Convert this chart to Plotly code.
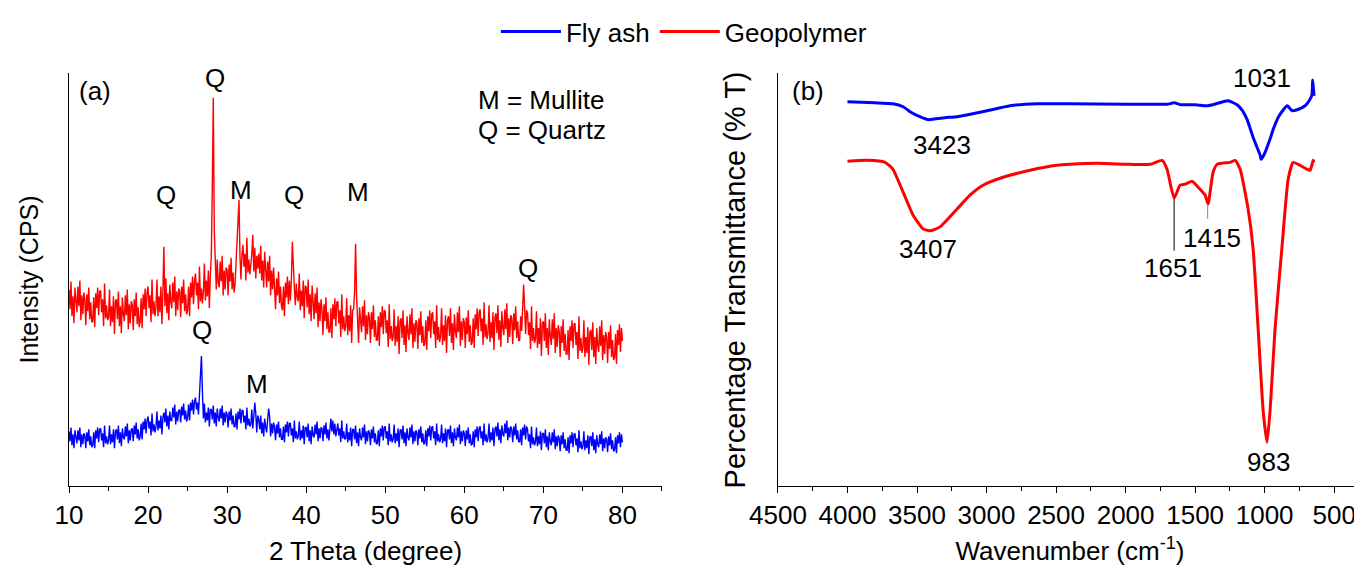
import plotly.graph_objects as go

# ---------------- XRD data (panel a), 2-theta from 10 to 80 deg in 0.125 deg steps ----------------
XRD_START = 10.0
XRD_STEP = 0.125
xrd_geopolymer = [
    198, 178, 206, 171, 191, 164, 200, 183,   # 10
    175, 201, 181, 207, 167, 192, 173, 195,   # 11
    188, 162, 193, 176, 200, 168, 185, 165,   # 12
    166, 190, 160, 194, 179, 200, 172, 196,   # 13
    197, 175, 188, 161, 204, 169, 182, 167,   # 14
    170, 198, 161, 181, 165, 191, 153, 186,   # 15
    188, 168, 196, 161, 181, 154, 190, 173,   # 16
    166, 192, 172, 198, 158, 183, 164, 186,   # 17
    183, 157, 188, 171, 195, 163, 180, 160,   # 18
    165, 189, 159, 193, 178, 199, 171, 195,   # 19
    201, 179, 192, 165, 208, 173, 186, 171,   # 20
    180, 208, 171, 191, 175, 201, 163, 196,   # 21
    241, 181, 209, 174, 194, 167, 203, 186,   # 22
    179, 205, 185, 211, 171, 196, 177, 199,   # 23
    196, 170, 201, 184, 208, 176, 193, 173,   # 24
    177, 201, 171, 205, 190, 211, 183, 207,   # 25
    214, 192, 205, 178, 221, 186, 199, 184,   # 26
    196, 224, 187, 207, 191, 217, 179, 212,   # 27
    232, 300, 391, 258, 220, 198, 228, 205,   # 28
    200, 226, 206, 232, 192, 217, 198, 220,   # 29
    218, 192, 223, 206, 230, 198, 215, 195,   # 30
    203, 226, 240, 258, 288, 232, 208, 233,   # 31
    243, 221, 234, 207, 250, 215, 228, 213,   # 32
    221, 234, 253, 216, 240, 209, 232, 219,   # 33
    234, 214, 242, 207, 227, 200, 236, 219,   # 34
    200, 226, 206, 232, 192, 217, 198, 220,   # 35
    204, 178, 209, 192, 216, 184, 201, 181,   # 36
    177, 201, 171, 205, 190, 211, 183, 207,   # 37
    187, 207, 246, 214, 200, 182, 204, 190,   # 38
    186, 214, 177, 197, 181, 207, 169, 202,   # 39
    200, 180, 208, 173, 193, 166, 202, 185,   # 40
    168, 194, 174, 200, 160, 185, 166, 188,   # 41
    178, 152, 183, 166, 190, 158, 175, 155,   # 42
    155, 179, 149, 183, 168, 189, 161, 185,   # 43
    186, 164, 177, 150, 193, 158, 171, 156,   # 44
    161, 189, 152, 172, 156, 182, 144, 177,   # 45
    178, 196, 244, 191, 171, 144, 180, 163,   # 46
    155, 181, 161, 187, 147, 172, 153, 175,   # 47
    170, 144, 175, 158, 182, 150, 167, 147,   # 48
    147, 171, 141, 175, 160, 181, 153, 177,   # 49
    176, 154, 167, 140, 183, 148, 161, 146,   # 50
    150, 178, 141, 161, 145, 171, 133, 166,   # 51
    169, 149, 177, 142, 162, 135, 171, 154,   # 52
    147, 173, 153, 179, 139, 164, 145, 167,   # 53
    164, 138, 169, 152, 176, 144, 161, 141,   # 54
    143, 167, 137, 171, 156, 177, 149, 173,   # 55
    175, 153, 166, 139, 182, 147, 160, 145,   # 56
    151, 179, 142, 162, 146, 172, 134, 167,   # 57
    171, 151, 179, 144, 164, 137, 173, 156,   # 58
    149, 175, 155, 181, 141, 166, 147, 169,   # 59
    165, 139, 170, 153, 177, 145, 162, 142,   # 60
    145, 169, 139, 173, 158, 179, 151, 175,   # 61
    178, 156, 169, 142, 185, 150, 163, 148,   # 62
    154, 182, 145, 165, 149, 175, 137, 170,   # 63
    174, 154, 182, 147, 167, 140, 176, 159,   # 64
    152, 178, 158, 184, 144, 169, 150, 172,   # 65
    169, 143, 174, 157, 181, 149, 166, 146,   # 66
    147, 171, 156, 178, 203, 181, 153, 177,   # 67
    174, 152, 165, 138, 181, 146, 159, 144,   # 68
    148, 176, 139, 159, 143, 169, 131, 164,   # 69
    166, 146, 174, 139, 159, 132, 168, 151,   # 70
    142, 168, 148, 174, 134, 159, 140, 162,   # 71
    156, 130, 161, 144, 168, 136, 153, 133,   # 72
    133, 157, 127, 161, 146, 167, 139, 163,   # 73
    164, 142, 155, 128, 171, 136, 149, 134,   # 74
    139, 167, 130, 150, 134, 160, 122, 155,   # 75
    157, 137, 165, 130, 150, 123, 159, 142,   # 76
    135, 161, 141, 167, 127, 152, 133, 155,   # 77
    150, 124, 155, 138, 162, 130, 147, 127,   # 78
    129, 153, 123, 157, 142, 163, 135, 159,   # 79
    146,
]
xrd_flyash = [
    55, 45, 59, 41, 52, 38, 56, 47,   # 10
    43, 56, 46, 59, 39, 52, 42, 53,   # 11
    51, 38, 54, 45, 57, 41, 50, 39,   # 12
    41, 54, 38, 56, 48, 59, 44, 57,   # 13
    58, 46, 53, 39, 61, 43, 50, 42,   # 14
    46, 61, 42, 52, 44, 57, 38, 55,   # 15
    57, 47, 61, 43, 54, 40, 58, 49,   # 16
    47, 60, 50, 63, 43, 56, 46, 57,   # 17
    58, 45, 61, 52, 64, 48, 57, 46,   # 18
    50, 63, 47, 65, 57, 68, 53, 66,   # 19
    70, 58, 65, 51, 73, 55, 62, 54,   # 20
    60, 75, 56, 66, 58, 71, 52, 69,   # 21
    74, 64, 78, 60, 71, 57, 75, 66,   # 22
    66, 79, 69, 82, 62, 75, 65, 76,   # 23
    77, 64, 80, 71, 83, 67, 76, 65,   # 24
    69, 82, 66, 84, 76, 87, 72, 85,   # 25
    89, 77, 84, 72, 92, 100, 131, 95,  # 26
    68, 83, 64, 74, 66, 79, 60, 77,   # 27
    77, 67, 81, 63, 74, 60, 78, 69,   # 28
    65, 78, 68, 81, 61, 74, 64, 75,   # 29
    72, 59, 75, 66, 78, 62, 71, 60,   # 30
    60, 73, 57, 75, 67, 78, 63, 76,   # 31
    76, 64, 71, 57, 79, 61, 68, 60,   # 32
    62, 77, 58, 70, 84, 73, 54, 71,   # 33
    67, 57, 71, 53, 64, 50, 68, 59,   # 34
    54, 67, 78, 70, 50, 63, 53, 64,   # 35
    59, 46, 62, 53, 65, 49, 58, 47,   # 36
    47, 60, 44, 62, 54, 65, 50, 63,   # 37
    63, 51, 58, 44, 66, 48, 55, 47,   # 38
    50, 65, 46, 56, 48, 61, 42, 59,   # 39
    59, 49, 63, 45, 56, 42, 60, 51,   # 40
    49, 62, 52, 65, 45, 58, 48, 59,   # 41
    58, 45, 61, 52, 64, 48, 57, 46,   # 42
    60, 68, 55, 66, 52, 63, 50, 60,   # 43
    63, 51, 58, 44, 66, 48, 55, 47,   # 44
    48, 63, 44, 54, 46, 59, 40, 57,   # 45
    57, 47, 61, 43, 54, 40, 58, 49,   # 46
    46, 59, 49, 62, 42, 55, 45, 56,   # 47
    54, 41, 57, 48, 60, 44, 53, 42,   # 48
    43, 56, 40, 58, 50, 61, 46, 59,   # 49
    60, 48, 55, 41, 63, 45, 52, 44,   # 50
    47, 62, 43, 53, 45, 58, 39, 56,   # 51
    57, 47, 61, 43, 54, 40, 58, 49,   # 52
    46, 59, 49, 62, 42, 55, 45, 56,   # 53
    54, 41, 57, 48, 60, 44, 53, 42,   # 54
    43, 56, 40, 58, 50, 61, 46, 59,   # 55
    60, 48, 55, 41, 63, 45, 52, 44,   # 56
    47, 62, 43, 53, 45, 58, 39, 56,   # 57
    57, 47, 61, 43, 54, 40, 58, 49,   # 58
    46, 59, 49, 62, 42, 55, 45, 56,   # 59
    53, 40, 56, 47, 59, 43, 52, 41,   # 60
    42, 55, 39, 57, 49, 60, 45, 58,   # 61
    60, 48, 55, 41, 63, 45, 52, 44,   # 62
    48, 63, 44, 54, 46, 59, 40, 57,   # 63
    60, 50, 64, 46, 57, 43, 61, 52,   # 64
    50, 63, 53, 66, 46, 59, 49, 60,   # 65
    57, 44, 60, 51, 63, 47, 56, 45,   # 66
    44, 57, 41, 59, 51, 62, 47, 60,   # 67
    57, 45, 52, 38, 60, 42, 49, 41,   # 68
    44, 59, 40, 50, 42, 55, 36, 53,   # 69
    53, 43, 57, 39, 50, 36, 54, 45,   # 70
    41, 54, 44, 57, 37, 50, 40, 51,   # 71
    48, 35, 51, 42, 54, 38, 47, 36,   # 72
    36, 49, 33, 51, 43, 54, 39, 52,   # 73
    53, 41, 48, 34, 56, 38, 45, 37,   # 74
    40, 55, 36, 46, 38, 51, 32, 49,   # 75
    50, 40, 54, 36, 47, 33, 51, 42,   # 76
    39, 52, 42, 55, 35, 48, 38, 49,   # 77
    47, 34, 50, 41, 53, 37, 46, 35,   # 78
    36, 49, 33, 51, 43, 54, 39, 52,   # 79
    44,
]
xrd_theta_g = [XRD_START + i * XRD_STEP for i in range(len(xrd_geopolymer))]
xrd_theta_f = [XRD_START + i * XRD_STEP for i in range(len(xrd_flyash))]

# ---------------- FTIR data (panel b) ----------------
ftir_fa_wn = [4000, 3800, 3673, 3600, 3550, 3480, 3421, 3300, 3212, 3100, 2996, 2831, 2637, 2400,
              2000, 1800, 1700, 1651, 1600, 1500, 1414, 1350, 1263, 1198, 1160, 1126, 1080, 1032,
              1025, 1000, 960, 939, 900, 838, 802, 766, 709, 680, 660, 655, 650, 645]
ftir_fa_t = [387, 386, 385, 382, 377, 372, 369, 371, 372, 375, 378, 383, 385, 385,
             384.5, 384.5, 384.5, 386, 384, 384, 383, 385, 388, 384, 378, 369, 350, 333,
             329, 335, 350, 359, 372, 383, 378, 379, 383, 388, 394, 409, 401, 393]
ftir_gp_wn = [4000, 3860, 3730, 3673, 3600, 3529, 3457, 3407, 3335, 3212, 3119, 3025, 2881, 2687,
              2493, 2399, 2200, 1968, 1824, 1737, 1702, 1651, 1608, 1572, 1522, 1478, 1428, 1407,
              1371, 1342, 1248, 1212, 1176, 1119, 1083, 1047, 1011, 983, 961, 925, 874, 831,
              795, 745, 694, 673, 651, 644]
ftir_gp_t = [327, 328, 326, 319, 296, 273, 259, 257, 261, 279, 293, 303, 311, 318,
             323, 324, 325, 324, 324, 328, 319, 290, 303, 304, 307, 301, 293, 284,
             316, 324, 326, 328, 319, 279, 239, 159, 76, 44, 76, 159, 243, 309,
             326, 323, 319, 318, 328, 326]

xrd_ticks = [10, 20, 30, 40, 50, 60, 70, 80]
ftir_ticks = [4500, 4000, 3500, 3000, 2500, 2000, 1500, 1000, 500]

BLUE = "#0000FF"
RED = "#FF0000"
FONT = "Liberation Sans, Arial, sans-serif"
FS = 26

fig = go.Figure()
fig.add_trace(go.Scatter(x=xrd_theta_f, y=xrd_flyash, mode="lines", name="Fly ash", showlegend=False,
                         line=dict(color=BLUE, width=1.4), xaxis="x", yaxis="y"))
fig.add_trace(go.Scatter(x=xrd_theta_g, y=xrd_geopolymer, mode="lines", name="Geopolymer", showlegend=False,
                         line=dict(color=RED, width=1.4), xaxis="x", yaxis="y"))
fig.add_trace(go.Scatter(x=ftir_fa_wn, y=ftir_fa_t, mode="lines", name="Fly ash",
                         line=dict(color=BLUE, width=3, shape="spline", smoothing=0.5),
                         xaxis="x2", yaxis="y2"))
fig.add_trace(go.Scatter(x=ftir_gp_wn, y=ftir_gp_t, mode="lines", name="Geopolymer",
                         line=dict(color=RED, width=3, shape="spline", smoothing=0.5),
                         xaxis="x2", yaxis="y2"))

# peak marker lines in FTIR
fig.add_shape(type="line", xref="x2", yref="y2", x0=1651, x1=1651, y0=289, y1=237,
              line=dict(color="black", width=1))
fig.add_shape(type="line", xref="x2", yref="y2", x0=1410, x1=1410, y0=284, y1=269,
              line=dict(color="#888888", width=1))

ann = []
def lab(text, x, y, xr, yr, size=FS, xanchor="center"):
    ann.append(dict(text=text, x=x, y=y, xref=xr, yref=yr, showarrow=False,
                    font=dict(size=size, color="black", family=FONT), xanchor=xanchor, yanchor="middle"))

# XRD labels
lab("(a)", 13.3, 398, "x", "y")
lab("Q", 28.5, 411, "x", "y")
lab("Q", 22.3, 293, "x", "y")
lab("M", 31.8, 298, "x", "y")
lab("Q", 38.4, 293, "x", "y")
lab("M", 46.6, 296, "x", "y")
lab("Q", 68.0, 220, "x", "y")
lab("Q", 26.8, 157, "x", "y")
lab("M", 33.8, 103, "x", "y")
lab("M = Mullite", 61.5, 389, "x", "y", xanchor="left")
lab("Q = Quartz", 61.5, 359, "x", "y", xanchor="left")
# FTIR labels
lab("(b)", 4284, 398, "x2", "y2")
lab("3423", 3320, 343, "x2", "y2")
lab("3407", 3421, 239, "x2", "y2")
lab("1651", 1658, 220, "x2", "y2")
lab("1415", 1378, 250, "x2", "y2")
lab("1031", 1018, 411, "x2", "y2")
lab("983", 975, 24, "x2", "y2")

# y-axis titles
ann.append(dict(text="Intensity (CPS)", x=-0.0317, y=0.5, xref="paper", yref="paper",
                textangle=-90, showarrow=False, font=dict(size=25, color="black", family=FONT),
                xanchor="center", yanchor="middle"))
ann.append(dict(text="Percentage Transmittance (% T)", x=0.515, y=0.5, xref="paper", yref="paper",
                textangle=-90, showarrow=False, font=dict(size=29, color="black", family=FONT),
                xanchor="center", yanchor="middle"))

axis_common = dict(showgrid=False, zeroline=False, showline=True, linecolor="black", linewidth=1.2,
                   ticks="outside", ticklen=6, tickwidth=1.2, tickcolor="black", automargin=False,
                   tickfont=dict(size=FS, color="black", family=FONT),
                   title_font=dict(size=FS, color="black", family=FONT))

# page body has an 8px margin, so the figure is sized 8px smaller to keep the reference geometry
fig.update_layout(
    width=1354, height=562,
    margin=dict(l=61, r=0, t=62, b=84),
    plot_bgcolor="white", paper_bgcolor="white",
    font=dict(family=FONT, color="black"),
    showlegend=True,
    legend=dict(orientation="h", x=0.4756, y=1.10, xanchor="center", yanchor="middle",
                font=dict(size=FS, color="black", family=FONT), bgcolor="rgba(0,0,0,0)",
                itemwidth=60, tracegroupgap=0),
    xaxis=dict(domain=[0, 0.4586], range=[10, 85], tickvals=xrd_ticks,
               minor=dict(ticks="outside", dtick=5, tick0=5, ticklen=4, tickcolor="black"),
               title=dict(text="2 Theta (degree)", standoff=12), anchor="y", **axis_common),
    yaxis=dict(domain=[0, 1], range=[0, 416], showgrid=False, zeroline=False, showline=True,
               linecolor="black", linewidth=1.2, showticklabels=False, ticks="", anchor="x"),
    xaxis2=dict(domain=[0.5483, 1], range=[4500, 300], tickvals=ftir_ticks,
                minor=dict(ticks="outside", dtick=250, tick0=0, ticklen=4, tickcolor="black"),
                title=dict(text="Wavenumber (cm<sup>-1</sup>)", standoff=12), anchor="y2", **axis_common),
    yaxis2=dict(domain=[0, 1], range=[0, 416], showgrid=False, zeroline=False, showline=True,
                linecolor="black", linewidth=1.2, showticklabels=False, ticks="", anchor="x2"),
    annotations=ann,
)

fig.write_html("out.html")
